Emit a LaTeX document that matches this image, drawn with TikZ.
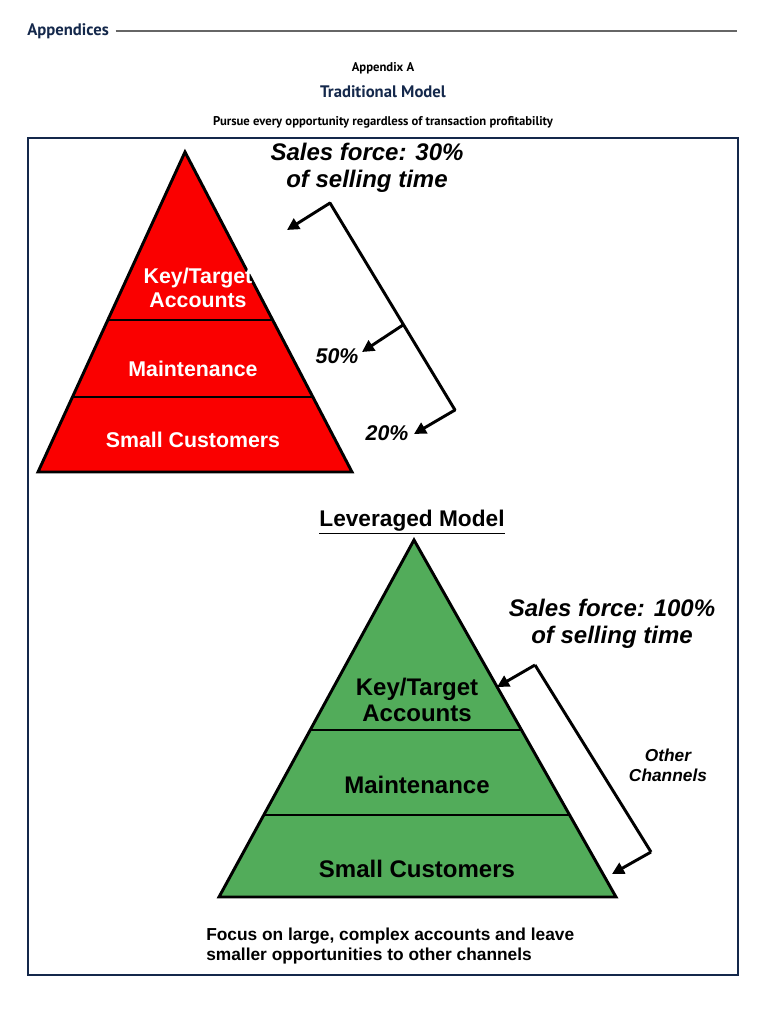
\documentclass[tikz,border=0pt]{standalone}
\usepackage{fontspec}
\setmainfont{Liberation Sans}
\newfontfamily\ptsans{PT Sans}
\usetikzlibrary{arrows.meta}
\definecolor{navy}{RGB}{20,40,75}
\definecolor{redf}{RGB}{250,0,0}
\definecolor{greenf}{RGB}{82,172,90}
\begin{document}
\begin{tikzpicture}[x=0.75pt,y=-0.75pt,
  tri/.style={draw=black,line width=2.2pt,line join=miter},
  sep/.style={draw=black,line width=1.8pt},
  brk/.style={draw=black,line width=2.2pt},
  arr/.style={draw=black,line width=2.2pt,-{Triangle[length=9pt,width=9pt]}},
  lbl/.style={font=\bfseries\itshape,align=center,inner sep=0pt}]
\useasboundingbox (0,0) rectangle (766,1010);
\fill[white] (0,0) rectangle (766,1010);
% header
\node[anchor=west,inner sep=0pt,text=navy,font=\ptsans\bfseries\fontsize{12.5}{14}\selectfont] (app) at (27,31) {Appendices};
\coordinate (hr) at (737,31);
\draw[gray!80!black,line width=0.8pt] ([xshift=5pt]app.east) -- (hr);
\node[inner sep=0pt,font=\ptsans\bfseries\fontsize{9.5}{11}\selectfont] (appa) at (383,68) {Appendix A};
\node[inner sep=0pt,text=navy,font=\ptsans\bfseries\fontsize{12.5}{14}\selectfont] (trad) at (383,92) {Traditional Model};
\node[inner sep=0pt,font=\ptsans\bfseries\fontsize{9.5}{11}\selectfont] (pursue) at (383,122) {Pursue every opportunity regardless of transaction profitability};
\draw[navy,line width=1.2pt] (28,138) rectangle (738,975);
% red pyramid
\coordinate (ra) at (185,152); \coordinate (rl) at (38,472); \coordinate (rr) at (352,472);
\coordinate (r1l) at (107.8,320); \coordinate (r1r) at (272.7,320);
\coordinate (r2l) at (72.4,397); \coordinate (r2r) at (312.8,397);
\fill[redf] (ra) -- (rl) -- (rr) -- cycle;
\draw[sep] (r1l) -- (r1r); \draw[sep] (r2l) -- (r2r);
\draw[tri] (ra) -- (rl) -- (rr) -- cycle;
\node[text=white,font=\bfseries\fontsize{16}{18}\selectfont,align=center,inner sep=0pt] (rk) at (198,288) {Key/Target\\Accounts};
\node[text=white,font=\bfseries\fontsize{16}{18}\selectfont,inner sep=0pt] (rm) at (193,369) {Maintenance};
\node[text=white,font=\bfseries\fontsize{16}{18}\selectfont,inner sep=0pt] (rs) at (193,440) {Small Customers};
\node[lbl,font=\bfseries\itshape\fontsize{18}{20}\selectfont] (sf1) at (367,168) {Sales force: 30\%\\of selling time};
\coordinate (b1) at (330,203); \coordinate (b2) at (403,325); \coordinate (b3) at (455,410);
\coordinate (t1) at (287,230); \coordinate (t2) at (362,352); \coordinate (t3) at (414,434);
\draw[brk,line cap=round] (b1) -- (b3);
\draw[arr] (b1) -- (t1); \draw[arr] (b2) -- (t2); \draw[arr] (b3) -- (t3);
\node[lbl,font=\bfseries\itshape\fontsize{16}{18}\selectfont] (p50) at (337,356) {50\%};
\node[lbl,font=\bfseries\itshape\fontsize{16}{18}\selectfont] (p20) at (387,433) {20\%};
% leveraged
\node[inner sep=0pt,font=\bfseries\fontsize{17}{19}\selectfont] (lev) at (412,522) {\underline{Leveraged Model}};
\coordinate (ga) at (414,540); \coordinate (gl) at (219,897); \coordinate (gr) at (616,897);
\coordinate (g1l) at (310.2,730); \coordinate (g1r) at (521.5,730);
\coordinate (g2l) at (263.8,815); \coordinate (g2r) at (569.6,815);
\fill[greenf] (ga) -- (gl) -- (gr) -- cycle;
\draw[sep] (g1l) -- (g1r); \draw[sep] (g2l) -- (g2r);
\draw[tri] (ga) -- (gl) -- (gr) -- cycle;
\node[font=\bfseries\fontsize{18}{20}\selectfont,align=center,inner sep=0pt] (gk) at (417,700) {Key/Target\\Accounts};
\node[font=\bfseries\fontsize{18}{20}\selectfont,inner sep=0pt] (gm) at (417,785) {Maintenance};
\node[font=\bfseries\fontsize{18}{20}\selectfont,inner sep=0pt] (gs) at (417,869) {Small Customers};
\node[lbl,font=\bfseries\itshape\fontsize{18}{20}\selectfont] (sf2) at (612,624) {Sales force: 100\%\\of selling time};
\coordinate (c1) at (535,665); \coordinate (c2) at (651,852);
\coordinate (u1) at (497,687); \coordinate (u2) at (612,874);
\draw[brk] (c1) -- (c2);
\draw[arr] (c1) -- (u1); \draw[arr] (c2) -- (u2);
\node[lbl,font=\bfseries\itshape\fontsize{13}{15}\selectfont] (oc) at (668,765) {Other\\Channels};
\node[anchor=west,align=left,inner sep=0pt,font=\bfseries\fontsize{13}{15.5}\selectfont] (foc) at (206,946) {Focus on large, complex accounts and leave\\smaller opportunities to other channels};
\end{tikzpicture}
\end{document}
